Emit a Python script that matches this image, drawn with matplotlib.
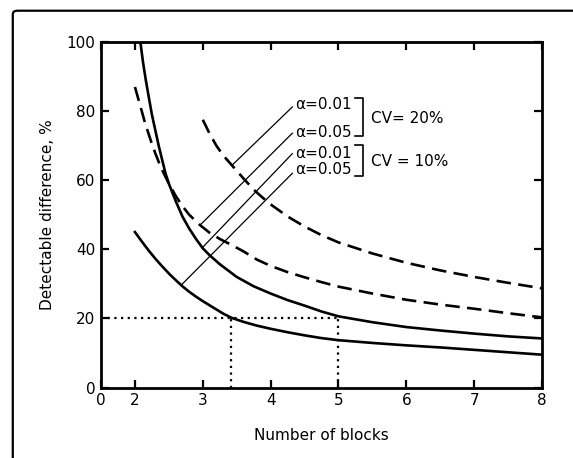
import matplotlib
matplotlib.use("Agg")
import matplotlib.pyplot as plt
from matplotlib.patches import FancyBboxPatch

# values
# alpha = 0.01, CV = 10% (upper solid)
x_s01 = [2.08, 2.12, 2.16, 2.2, 2.25, 2.3, 2.35, 2.4, 2.45, 2.5, 2.6, 2.7, 2.8, 2.9, 3.0,
         3.1, 3.25, 3.5, 3.75, 4.0, 4.25, 4.5, 4.75, 5.0, 5.5, 6.0, 6.5, 7.0, 7.5, 8.0]
y_s01 = [100, 94, 89, 84.5, 79, 74.5, 70, 66, 62, 59, 54, 49.5, 46, 43, 40.3,
         38.3, 35.7, 32, 29.3, 27.2, 25.3, 23.7, 22, 20.6, 18.9, 17.5, 16.5, 15.6, 14.8, 14.2]
# alpha = 0.05, CV = 10% (lower solid)
x_s05 = [2.0, 2.1, 2.2, 2.3, 2.4, 2.5, 2.6, 2.7, 2.8, 2.9, 3.0, 3.1, 3.2, 3.3, 3.42,
         3.6, 3.8, 4.0, 4.25, 4.5, 4.75, 5.0, 5.5, 6.0, 6.5, 7.0, 7.5, 8.0]
y_s05 = [45, 42.3, 39.7, 37.3, 35.1, 33, 31.1, 29.3, 27.7, 26.3, 25, 23.8, 22.6, 21.4, 20.2,
         19, 17.9, 17, 16, 15.1, 14.3, 13.7, 12.9, 12.2, 11.6, 10.9, 10.2, 9.5]
# alpha = 0.01, CV = 20% (upper dashed)
x_d01 = [3.0, 3.05, 3.1, 3.2, 3.3, 3.43, 3.6, 3.75, 3.85, 4.0, 4.25, 4.5, 4.75, 5.0,
         5.5, 6.0, 6.5, 7.0, 7.5, 8.0]
y_d01 = [77.5, 75.5, 73.5, 70, 67.2, 64.3, 60.5, 57.3, 55.5, 53, 49.5, 46.6, 44.1, 42,
         38.8, 36.1, 33.9, 32, 30.3, 28.7]
# alpha = 0.05, CV = 20% (lower dashed)
x_d05 = [2.0, 2.05, 2.1, 2.15, 2.2, 2.25, 2.3, 2.35, 2.4, 2.45, 2.5, 2.6, 2.7, 2.8, 2.96,
         3.1, 3.25, 3.42, 3.6, 3.8, 4.0, 4.25, 4.5, 4.75, 5.0, 5.5, 6.0, 6.5, 7.0, 7.5, 8.0]
y_d05 = [87, 83.5, 80, 76.5, 73.5, 70.5, 67.8, 65.3, 63, 61, 59, 55.5, 52.5, 50, 47,
         44.8, 43, 41.3, 39.4, 37, 35.2, 33.4, 31.9, 30.5, 29.2, 27.2, 25.4, 24, 22.8, 21.5, 20.3]

# reference lines at 20 %
ref_y = 20
ref_x = [3.42, 5.0]

# callout labels: text, label y, curve point hit by the leader
labels = ["α=0.01", "α=0.05", "α=0.01", "α=0.05"]
label_y = [81.8, 73.9, 67.7, 63.0]
lead_start_y = [81.2, 73.6, 67.7, 62.0]
lead_end = [(3.43, 64.3), (2.96, 47.0), (2.99, 40.4), (2.68, 29.6)]
groups = [("CV= 20%", 83.8, 72.7, 78.0), ("CV = 10%", 70.3, 61.1, 65.4)]

xticks = [1.5, 2, 3, 4, 5, 6, 7, 8]
xtick_labels = ["0", "2", "3", "4", "5", "6", "7", "8"]
yticks = [0, 20, 40, 60, 80, 100]

plt.rcParams['font.family'] = ['DejaVu Sans']
fig = plt.figure(figsize=(5.73, 4.58), dpi=100)
ax = fig.add_axes([0.1763, 0.1539, 0.7696, 0.7544])

lw = 1.9
ax.plot(x_s01, y_s01, color='black', lw=lw)
ax.plot(x_s05, y_s05, color='black', lw=lw)
ax.plot(x_d01, y_d01, color='black', lw=lw, linestyle=(0, (5.5, 2.8)))
ax.plot(x_d05, y_d05, color='black', lw=lw, linestyle=(0, (5.5, 2.8)))

dots = (0, (1, 2.0))
ax.plot([1.5, ref_x[1]], [ref_y, ref_y], color='black', lw=1.6, linestyle=dots)
for xv in ref_x:
    ax.plot([xv, xv], [0, ref_y], color='black', lw=1.6, linestyle=dots)

for txt, ly, sy, (ex, ey) in zip(labels, label_y, lead_start_y, lead_end):
    ax.plot([4.32, ex], [sy, ey], color='black', lw=0.9)
    ax.text(4.36, ly, txt, fontsize=11, ha='left', va='center')

for txt, top, bot, ty in groups:
    ax.plot([5.25, 5.36, 5.36, 5.25], [top, top, bot, bot], color='black', lw=1.2)
    ax.text(5.48, ty, txt, fontsize=11, ha='left', va='center')

ax.set_xlim(1.5, 8)
ax.set_ylim(0, 100)
ax.set_xticks(xticks)
ax.set_xticklabels(xtick_labels)
ax.set_yticks(yticks)
ax.tick_params(direction='in', length=6, width=1.6, labelsize=11,
               top=True, right=True, pad=4)
for s in ax.spines.values():
    s.set_linewidth(2.0)

ax.set_xlabel('Number of blocks', fontsize=11, labelpad=14)
ax.set_ylabel('Detectable difference, %', fontsize=11, labelpad=8)

# outer frame (open to the right and bottom, as in the scan)
frame = FancyBboxPatch((0.0223, -0.2), 1.2, 1.1766, transform=fig.transFigure,
                       boxstyle="round,pad=0,rounding_size=0.008",
                       fill=False, lw=1.6, edgecolor='black')
fig.add_artist(frame)

fig.savefig('out.png', dpi=100)
